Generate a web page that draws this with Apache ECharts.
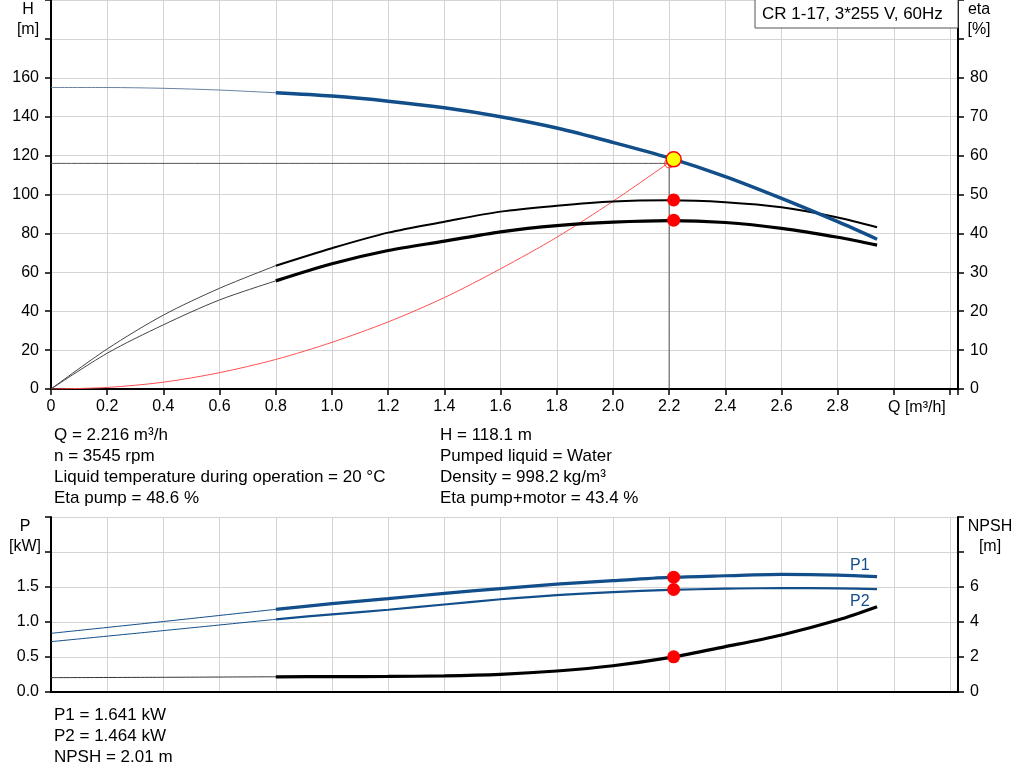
<!DOCTYPE html>
<html>
<head>
<meta charset="utf-8">
<script src="https://cdn.jsdelivr.net/npm/echarts@6/dist/echarts.min.js"></script>
<style>
html,body{margin:0;padding:0;background:#fff;}
#c{width:1024px;height:781px;}
</style>
</head>
<body>
<div id="c"></div>
<script>
// ---------- data ----------
const qThin = [0, 0.2, 0.4, 0.6, 0.8];
const qThick = [0.8, 1.0, 1.2, 1.4, 1.6, 1.8, 2.0, 2.2, 2.4, 2.6, 2.8, 2.94];
const headThin = [155.0, 155.0, 154.6, 153.7, 152.3];
const headThick = [152.3, 150.6, 148.0, 144.6, 140.0, 134.2, 126.8, 118.8, 109.2, 98.0, 86.0, 77.0];
const etaPumpThin = [0, 10.3, 19.0, 25.9, 31.7];
const etaPumpThick = [31.7, 36.2, 40.2, 43.0, 45.6, 47.1, 48.2, 48.5, 48.0, 46.7, 44.1, 41.6];
const etaTotalThin = [0, 9.2, 16.5, 22.9, 27.8];
const etaTotalThick = [27.8, 32.2, 35.6, 38.0, 40.4, 42.0, 42.9, 43.3, 42.8, 41.3, 39.0, 37.0];
const qSys = [0, 0.2, 0.4, 0.6, 0.8, 1.0, 1.2, 1.4, 1.6, 1.8, 2.0, 2.216];
const hSys = [0, 0.8, 3.5, 8.4, 15.2, 24.0, 34.5, 47.0, 61.8, 78.0, 96.5, 118.1];
const qPThin = [0, 0.4, 0.8];
const p1Thin = [0.838, 1.007, 1.181];
const p1Thick = [1.181, 1.262, 1.335, 1.408, 1.478, 1.540, 1.590, 1.637, 1.661, 1.680, 1.671, 1.647];
const p2Thin = [0.719, 0.877, 1.038];
const p2Thick = [1.038, 1.110, 1.175, 1.250, 1.325, 1.385, 1.428, 1.458, 1.476, 1.486, 1.480, 1.471];
const npshThin = [0.82, 0.84, 0.87];
const npshThick = [0.87, 0.876, 0.89, 0.92, 1.01, 1.20, 1.50, 1.96, 2.59, 3.26, 4.11, 4.87];
const dutyQ = 2.216, dutyH = 118.1, dutyEtaPump = 48.6, dutyEtaTotal = 43.4;
const dutyP1 = 1.641, dutyP2 = 1.464, dutyNPSH = 2.01;
const reqQ = 2.2, reqH = 116.0;
const xTicks = [0, 0.2, 0.4, 0.6, 0.8, 1.0, 1.2, 1.4, 1.6, 1.8, 2.0, 2.2, 2.4, 2.6, 2.8];
const hTicks = [0, 20, 40, 60, 80, 100, 120, 140, 160];
const etaTicks = [0, 10, 20, 30, 40, 50, 60, 70, 80];
const pTicks = [0, 0.5, 1.0, 1.5];
const npshTicks = [0, 2, 4, 6];
const infoLeft = ['Q = 2.216 m³/h', 'n = 3545 rpm', 'Liquid temperature during operation = 20 °C', 'Eta pump = 48.6 %'];
const infoRight = ['H = 118.1 m', 'Pumped liquid = Water', 'Density = 998.2 kg/m³', 'Eta pump+motor = 43.4 %'];
const infoBottom = ['P1 = 1.641 kW', 'P2 = 1.464 kW', 'NPSH = 2.01 m'];
const title = 'CR 1-17, 3*255 V, 60Hz';

// ---------- helpers ----------
const zip = (xs, ys) => xs.map((x, i) => [x, ys[i]]);
const FONT = '"Liberation Sans", Arial, sans-serif';
const FS = 16;
const FS_INFO = 17;
const BLUE = '#124e8a';
const GRID = '#d4d4d4';
const inList = (list, v) => list.some(t => Math.abs(t - v) < 1e-6);

function line(name, x, y, data, color, width, z) {
  return { name, type: 'line', xAxisIndex: x, yAxisIndex: y, data, smooth: 0.3,
    showSymbol: false, symbol: 'none', lineStyle: { color, width }, z: z || 2, silent: true, animation: false };
}
function dot(x, y, pt, size, color, border, bw, z, symbol) {
  return { type: 'scatter', xAxisIndex: x, yAxisIndex: y, data: [pt], symbol: symbol || 'circle', symbolSize: size,
    itemStyle: { color, borderColor: border || color, borderWidth: bw || 0, opacity: 1 }, z: z || 10, silent: true, animation: false };
}

const axisText = { color: '#000', fontFamily: FONT, fontSize: FS };
function yAx(grid, pos, max, interval, ticks, fmt, split) {
  return {
    type: 'value', gridIndex: grid, position: pos, min: 0, max, interval,
    axisLine: { show: true, lineStyle: { color: '#000', width: 2 } },
    axisTick: { show: true, length: 6, lineStyle: { color: '#000', width: 1.5 } },
    axisLabel: Object.assign({ margin: 12, formatter: v => inList(ticks, v) ? fmt(v) : '' }, axisText),
    splitLine: { show: split, lineStyle: { color: GRID, width: 1 } }
  };
}

const graphics = [];
function txt(x, y, s, align, color, size) {
  graphics.push({ type: 'text', x, y, style: { text: s, x: 0, y: 0, fill: color || '#000',
    font: (size || FS) + 'px ' + FONT, textAlign: align || 'left', textVerticalAlign: 'middle' }, z: 100 });
}
txt(28, 10, 'H', 'center'); txt(28, 30, '[m]', 'center');
txt(979, 10, 'eta', 'center'); txt(979, 30, '[%]', 'center');
txt(25, 527, 'P', 'center'); txt(25, 547, '[kW]', 'center');
txt(990, 527, 'NPSH', 'center'); txt(990, 547, '[m]', 'center');
txt(888, 408, 'Q [m³/h]', 'left');
infoLeft.forEach((s, i) => txt(54, 435 + i * 21, s, 'left', '#000', FS_INFO));
infoRight.forEach((s, i) => txt(440, 435 + i * 21, s, 'left', '#000', FS_INFO));
infoBottom.forEach((s, i) => txt(54, 715 + i * 21, s, 'left', '#000', FS_INFO));
txt(850, 566, 'P1', 'left', BLUE, 16);
txt(850, 602, 'P2', 'left', BLUE, 16);
graphics.push({ type: 'rect', shape: { x: 755, y: -1, width: 203, height: 29 },
  style: { fill: '#fff', stroke: '#555', lineWidth: 1 }, z: 90 });
txt(762, 14, title, 'left', '#000', FS_INFO);

const option = {
  animation: false,
  backgroundColor: '#fff',
  grid: [
    { left: 51, top: 0, width: 907, height: 389, containLabel: false },
    { left: 51, top: 517, width: 907, height: 175, containLabel: false }
  ],
  xAxis: [
    { type: 'value', gridIndex: 0, min: 0, max: 3.228, interval: 0.2,
      axisLine: { show: true, onZero: false, lineStyle: { color: '#000', width: 2 } },
      axisTick: { show: true, length: 6, lineStyle: { color: '#000', width: 1.5 } },
      axisLabel: Object.assign({ margin: 10, formatter: v => inList(xTicks, v) ? (v === 0 ? '0' : v.toFixed(1)) : '' }, axisText),
      splitLine: { show: true, lineStyle: { color: GRID, width: 1 } } },
    { type: 'value', gridIndex: 1, min: 0, max: 3.228, interval: 0.2,
      axisLine: { show: true, onZero: false, lineStyle: { color: '#000', width: 2 } },
      axisTick: { show: false }, axisLabel: { show: false },
      splitLine: { show: true, lineStyle: { color: GRID, width: 1 } } }
  ],
  yAxis: [
    yAx(0, 'left', 200, 20, hTicks, v => String(v), true),
    yAx(0, 'right', 100, 10, etaTicks, v => String(v), false),
    yAx(1, 'left', 2.5, 0.5, pTicks, v => v.toFixed(1), true),
    yAx(1, 'right', 10, 2, npshTicks, v => String(v), false)
  ],
  graphic: graphics,
  series: [
    line('cross', 0, 0, [[0, reqH], [reqQ, reqH], [reqQ, 0]], '#555', 1, 3),
    line('sys', 0, 0, zip(qSys, hSys), '#ff5050', 1, 4),
    line('etaPumpThin', 0, 1, zip(qThin, etaPumpThin), '#444', 1, 4),
    line('etaPump', 0, 1, zip(qThick, etaPumpThick), '#000', 2, 5),
    line('etaTotThin', 0, 1, zip(qThin, etaTotalThin), '#444', 1, 4),
    line('etaTot', 0, 1, zip(qThick, etaTotalThick), '#000', 3.2, 5),
    line('HThin', 0, 0, zip(qThin, headThin), '#6a82a3', 1, 6),
    line('H', 0, 0, zip(qThick, headThick), BLUE, 3.5, 6),
    line('P1Thin', 1, 2, zip(qPThin, p1Thin), BLUE, 1, 4),
    line('P1', 1, 2, zip(qThick, p1Thick), BLUE, 3.2, 5),
    line('P2Thin', 1, 2, zip(qPThin, p2Thin), BLUE, 1, 4),
    line('P2', 1, 2, zip(qThick, p2Thick), BLUE, 2.2, 5),
    line('NPSHThin', 1, 3, zip(qPThin, npshThin), '#333', 1, 4),
    line('NPSH', 1, 3, zip(qThick, npshThick), '#000', 3.2, 5),
    dot(0, 0, [reqQ, reqH], 9, 'rgba(0,0,0,0)', '#ff3030', 1, 9),
    dot(0, 1, [dutyQ, dutyEtaPump], 13, '#ff0000'),
    dot(0, 1, [dutyQ, dutyEtaTotal], 13, '#ff0000'),
    dot(0, 0, [dutyQ, dutyH], 15, '#ffff00', '#ff0000', 1.5, 12),
    dot(1, 2, [dutyQ, dutyP1], 13, '#ff0000'),
    dot(1, 2, [dutyQ, dutyP2], 13, '#ff0000'),
    dot(1, 3, [dutyQ, dutyNPSH], 13, '#ff0000')
  ]
};
const chart = echarts.init(document.getElementById('c'), null, { renderer: 'canvas' });
chart.setOption(option);
</script>
</body>
</html>
